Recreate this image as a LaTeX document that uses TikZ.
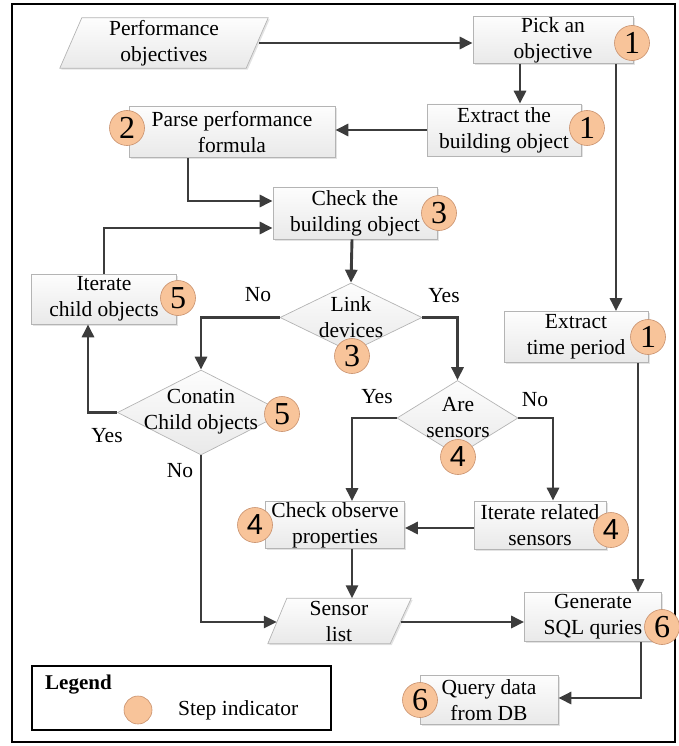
\documentclass[tikz,border=0pt]{standalone}
\usepackage{fontspec}
\setmainfont{Liberation Serif}
\newfontfamily\digitsans{Liberation Sans}
\usetikzlibrary{shapes.geometric,arrows.meta,calc,shadows}

\definecolor{boxedge}{HTML}{B4B4B4}
\definecolor{boxtop}{HTML}{FDFDFD}
\definecolor{boxbot}{HTML}{E9E9E9}
\definecolor{stepfill}{HTML}{F8C49A}
\definecolor{stepedge}{HTML}{C8906C}
\definecolor{flowline}{HTML}{3C3C3C}

\tikzset{
  x=1pt, y=-1pt,
  txt/.style={font=\fontsize{21.5}{26}\selectfont, align=center, inner sep=0pt},
  procbox/.style={draw=boxedge, line width=0.7pt, top color=boxtop, bottom color=boxbot,
    drop shadow={shadow xshift=1.5pt, shadow yshift=-1.5pt, fill=black!18, opacity=0.6},
    txt},
  decision/.style={diamond, draw=boxedge, line width=0.7pt, top color=boxtop, bottom color=boxbot,
    inner sep=0pt, minimum width=#1},
  ioshape/.style={draw=boxedge, line width=0.7pt, top color=boxtop, bottom color=boxbot,
    drop shadow={shadow xshift=1.5pt, shadow yshift=-1.5pt, fill=black!18, opacity=0.6}},
  stepmark/.style={circle, draw=stepedge, line width=0.6pt, fill=stepfill, minimum size=35pt,
    inner sep=0pt, font=\fontsize{32}{32}\selectfont},
  sansmark/.style={stepmark, font=\digitsans\fontsize{29}{29}\selectfont},
  flow/.style={draw=flowline, line width=2.9pt, -{Triangle[length=13pt, width=12pt]}},
  branch/.style={font=\fontsize{21.5}{26}\selectfont, inner sep=0pt},
}

\begin{document}
\begin{tikzpicture}
\useasboundingbox (0,0) rectangle (679,746);
\draw[line width=2.8pt] (12,4) rectangle (675,742);

% ---- process boxes ----
\node[procbox, minimum width=160pt, minimum height=47pt] (pick) at (553,40) {Pick an\\objective};
\node[procbox, minimum width=154pt, minimum height=52pt] (extb) at (504,130) {Extract the\\building object};
\node[procbox, minimum width=206pt, minimum height=51pt] (parse) at (232,132) {Parse performance\\formula};
\node[procbox, minimum width=164pt, minimum height=52pt] (check) at (355,213) {Check the\\building object};
\node[procbox, minimum width=145pt, minimum height=50pt] (iterc) at (104,299) {Iterate\\child objects};
\node[procbox, minimum width=144pt, minimum height=51pt] (extt) at (576,337) {Extract\\time period};
\node[procbox, minimum width=139pt, minimum height=47pt] (obsv) at (335,525) {Check observe\\properties};
\node[procbox, minimum width=132pt, minimum height=48pt] (iters) at (540,525) {Iterate related\\sensors};
\node[procbox, minimum width=137pt, minimum height=49pt] (gen) at (593,617) {Generate\\SQL quries};
\node[procbox, minimum width=138pt, minimum height=49pt] (query) at (489,700) {Query data\\from DB};

% ---- input/output shapes ----
\node[minimum width=190pt, minimum height=50pt, inner sep=0pt] (perf) at (164,43) {};
\path[ioshape] ($(perf.south west)+(-9,0)$) -- ($(perf.north west)+(13,0)$)
  -- ($(perf.north east)+(9,0)$) -- ($(perf.south east)+(-13,0)$) -- cycle;
\node[txt] (perftxt) at (perf) {Performance\\objectives};

\node[minimum width=124pt, minimum height=45pt, inner sep=0pt] (slist) at (339,621) {};
\path[ioshape] ($(slist.south west)+(-9,0)$) -- ($(slist.north west)+(10,0)$)
  -- ($(slist.north east)+(10,0)$) -- ($(slist.south east)+(-11,0)$) -- cycle;
\node[txt] (slisttxt) at (slist) {Sensor\\list};

% ---- decisions ----
\node[decision=142pt, minimum height=69pt, aspect=2] (link) at (351,317.5) {};
\node[txt] (linktxt) at (link) {Link\\devices};
\node[decision=167pt, minimum height=85pt, aspect=2] (cont) at (201,412.5) {};
\node[txt] (conttxt) at (201,412) {Conatin\\Child objects};
\node[decision=121pt, minimum height=75pt, aspect=1.6] (are) at (457.5,418) {};
\node[txt] (aretxt) at (458,417.5) {Are\\sensors};

% ---- step indicators ----
\node[stepmark] (s1a) at (632,43) {1};
\node[stepmark] (s1b) at (587,128) {1};
\node[stepmark] (s2) at (127,128) {2};
\node[stepmark] (s3a) at (439,213) {3};
\node[stepmark] (s5a) at (178,298) {5};
\node[stepmark] (s3b) at (352,356) {3};
\node[stepmark] (s1c) at (648,337) {1};
\node[stepmark] (s5b) at (282,414) {5};
\node[sansmark] (s4a) at (458,457) {4};
\node[sansmark] (s4b) at (255,525) {4};
\node[sansmark] (s4c) at (611,530) {4};
\node[stepmark] (s6a) at (662,627) {6};
\node[stepmark] (s6b) at (420,700) {6};

% ---- connectors ----
\draw[flow] (perf.east |- 0,43) -- (pick.west |- 0,43);
\draw[flow] (pick.south -| 520,0) -- (extb.north -| 520,0);
\draw[flow] (extb.west) -- (parse.east |- extb.west);
\draw[flow] (parse.south -| 188,0) |- (check.west |- 0,201);
\draw[flow] (iterc.north) |- (check.west |- 0,228);
\draw[flow] (check.south -| 352,0) -- (link.north);
\draw[flow] (link.west) -| (cont.north);
\draw[flow] (link.east) -| (are.north);
\draw[flow] (cont.west) -| (iterc.south -| 88,0);
\draw[flow] (cont.south) |- (slist.west |- 0,622);
\draw[flow] (are.west) -| (obsv.north -| 352,0);
\draw[flow] (are.east) -| (iters.north -| 553,0);
\draw[flow] (iters.west |- 0,528) -- (obsv.east |- 0,528);
\draw[flow] (obsv.south -| 352,0) -- (slist.north -| 352,0);
\draw[flow] (slist.east |- 0,622) -- (gen.west |- 0,622);
\draw[flow] (pick.south -| 616,0) -- (extt.north -| 616,0);
\draw[flow] (extt.south -| 638,0) -- (gen.north -| 638,0);
\draw[flow] (gen.south -| 641,0) |- (query.east |- 0,698);

% ---- branch labels ----
\node[branch] (lno1) at (258,295) {No};
\node[branch] (lyes1) at (444,296) {Yes};
\node[branch] (lyes2) at (377,397) {Yes};
\node[branch] (lno2) at (535,400) {No};
\node[branch] (lyes3) at (107,436) {Yes};
\node[branch] (lno3) at (180,471) {No};

% ---- legend ----
\node[draw, line width=1.3pt, minimum width=299pt, minimum height=64pt, inner sep=0pt] (legend) at (181.5,698) {};
\node[font=\fontsize{21}{25}\selectfont\bfseries, anchor=west, inner sep=0pt] (legtitle) at (45,685) {Legend};
\node[circle, draw=stepedge, line width=0.6pt, fill=stepfill, minimum size=28pt, inner sep=0pt] (legmark) at (138,710) {};
\node[font=\fontsize{21.5}{26}\selectfont, anchor=west, inner sep=0pt] (legtxt) at (178,710) {Step indicator};
\end{tikzpicture}
\end{document}
